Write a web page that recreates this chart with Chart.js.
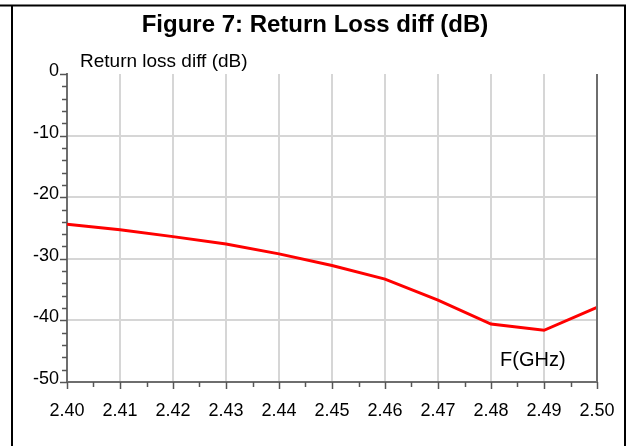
<!DOCTYPE html>
<html>
<head>
<meta charset="utf-8">
<script src="https://cdn.jsdelivr.net/npm/chart.js@4.4.1/dist/chart.umd.min.js"></script>
<style>
  html, body { margin: 0; padding: 0; background: #ffffff; }
  #wrap { position: relative; width: 632px; height: 446px; }
</style>
</head>
<body>
<div id="wrap"><canvas id="c" width="632" height="446"></canvas></div>
<script>
// ---- data ----
const chartTitle = "Figure 7: Return Loss diff (dB)";
const yAxisTitle = "Return loss diff (dB)";
const xAxisTitle = "F(GHz)";
const frequencies = [2.40, 2.41, 2.42, 2.43, 2.44, 2.45, 2.46, 2.47, 2.48, 2.49, 2.50];
const returnLossDiff = [-24.4, -25.3, -26.4, -27.6, -29.2, -31.1, -33.3, -36.7, -40.6, -41.6, -37.9];
const xTickLabels = ["2.40", "2.41", "2.42", "2.43", "2.44", "2.45", "2.46", "2.47", "2.48", "2.49", "2.50"];
const yTickValues = [0, -10, -20, -30, -40, -50];
const xMinorValues = [2.405, 2.415, 2.425, 2.435, 2.445, 2.455, 2.465, 2.475, 2.485, 2.495];
const yMinorValues = [-2, -4, -6, -8, -12, -14, -16, -18, -22, -24, -26, -28, -32, -34, -36, -38, -42, -44, -46, -48];

const FONT = "'Liberation Sans', Arial, Helvetica, sans-serif";
const AXIS_COLOR = "#6e6e6e";
const GRID_COLOR = "#d6d6d6";

const decorPlugin = {
  id: "decor",
  afterDraw(chart) {
    const ctx = chart.ctx;
    const xs = chart.scales.x, ys = chart.scales.y;
    const area = chart.chartArea;
    ctx.save();
    // right border of plot (at last frequency)
    ctx.strokeStyle = AXIS_COLOR;
    ctx.lineWidth = 2;
    const xr = xs.getPixelForValue(frequencies[frequencies.length - 1]);
    ctx.beginPath(); ctx.moveTo(xr, area.top); ctx.lineTo(xr, area.bottom); ctx.stroke();
    // x ticks (major + minor), pointing down
    ctx.lineWidth = 1.5;
    ctx.strokeStyle = "#555555";
    frequencies.forEach(v => {
      const p = Math.round(xs.getPixelForValue(v)) + 0.5;
      ctx.beginPath(); ctx.moveTo(p, area.bottom); ctx.lineTo(p, area.bottom + 7); ctx.stroke();
    });
    xMinorValues.forEach(v => {
      const p = Math.round(xs.getPixelForValue(v)) + 0.5;
      ctx.beginPath(); ctx.moveTo(p, area.bottom); ctx.lineTo(p, area.bottom + 5); ctx.stroke();
    });
    // y ticks (major + minor), pointing left
    yTickValues.forEach(v => {
      const p = Math.round(ys.getPixelForValue(v)) + 0.5;
      ctx.beginPath(); ctx.moveTo(area.left, p); ctx.lineTo(area.left - 7, p); ctx.stroke();
    });
    yMinorValues.forEach(v => {
      const p = Math.round(ys.getPixelForValue(v)) + 0.5;
      ctx.beginPath(); ctx.moveTo(area.left, p); ctx.lineTo(area.left - 5, p); ctx.stroke();
    });
    // axis titles
    ctx.fillStyle = "#000000";
    ctx.font = "19px " + FONT;
    ctx.textAlign = "left";
    ctx.textBaseline = "alphabetic";
    ctx.fillText(yAxisTitle, 80, 67);
    ctx.font = "20px " + FONT;
    ctx.fillText(xAxisTitle, 500, 366);
    // chart title
    ctx.font = "bold 24px " + FONT;
    ctx.textAlign = "center";
    ctx.fillText(chartTitle, 315, 32);
    // outer frame lines
    ctx.strokeStyle = "#000000";
    ctx.lineWidth = 2;
    ctx.beginPath();
    ctx.moveTo(0, 5.5); ctx.lineTo(626, 5.5);
    ctx.moveTo(12, 5); ctx.lineTo(12, 446);
    ctx.moveTo(625, 5); ctx.lineTo(625, 446);
    ctx.stroke();
    ctx.restore();
  }
};

new Chart(document.getElementById("c"), {
  type: "line",
  data: {
    datasets: [{
      data: frequencies.map((f, i) => ({ x: f, y: returnLossDiff[i] })),
      borderColor: "#ff0000",
      borderWidth: 3,
      pointRadius: 0,
      tension: 0,
      fill: false
    }]
  },
  options: {
    responsive: false,
    animation: false,
    devicePixelRatio: 1,
    layout: { padding: { top: 74, right: 35, left: 0, bottom: 0 } },
    plugins: { legend: { display: false }, title: { display: false }, tooltip: { enabled: false } },
    scales: {
      x: {
        type: "linear",
        min: frequencies[0],
        max: frequencies[frequencies.length - 1],
        afterBuildTicks: s => { s.ticks = frequencies.map(v => ({ value: v })); },
        afterFit: s => { s.height = 64; },
        border: { display: true, color: AXIS_COLOR, width: 2 },
        grid: {
          color: GRID_COLOR, lineWidth: 2, drawTicks: true, tickLength: 7,
          tickColor: "rgba(0,0,0,0)"
        },
        ticks: {
          autoSkip: false, maxRotation: 0, padding: 11, color: "#000000",
          font: { family: FONT, size: 18 },
          callback: (v, i) => xTickLabels[i]
        }
      },
      y: {
        type: "linear",
        min: yTickValues[yTickValues.length - 1],
        max: yTickValues[0],
        afterBuildTicks: s => { s.ticks = yTickValues.slice().reverse().map(v => ({ value: v })); },
        afterFit: s => { s.width = 67; },
        border: { display: true, color: AXIS_COLOR, width: 2 },
        grid: {
          color: c => (c.tick && c.tick.value === 0) ? "rgba(0,0,0,0)" : GRID_COLOR,
          lineWidth: 2, drawTicks: true, tickLength: 7, tickColor: "rgba(0,0,0,0)"
        },
        ticks: {
          autoSkip: false, padding: 1, color: "#000000", labelOffset: -3,
          font: { family: FONT, size: 18 },
          callback: v => String(v)
        }
      }
    }
  },
  plugins: [decorPlugin]
});
</script>
</body>
</html>
